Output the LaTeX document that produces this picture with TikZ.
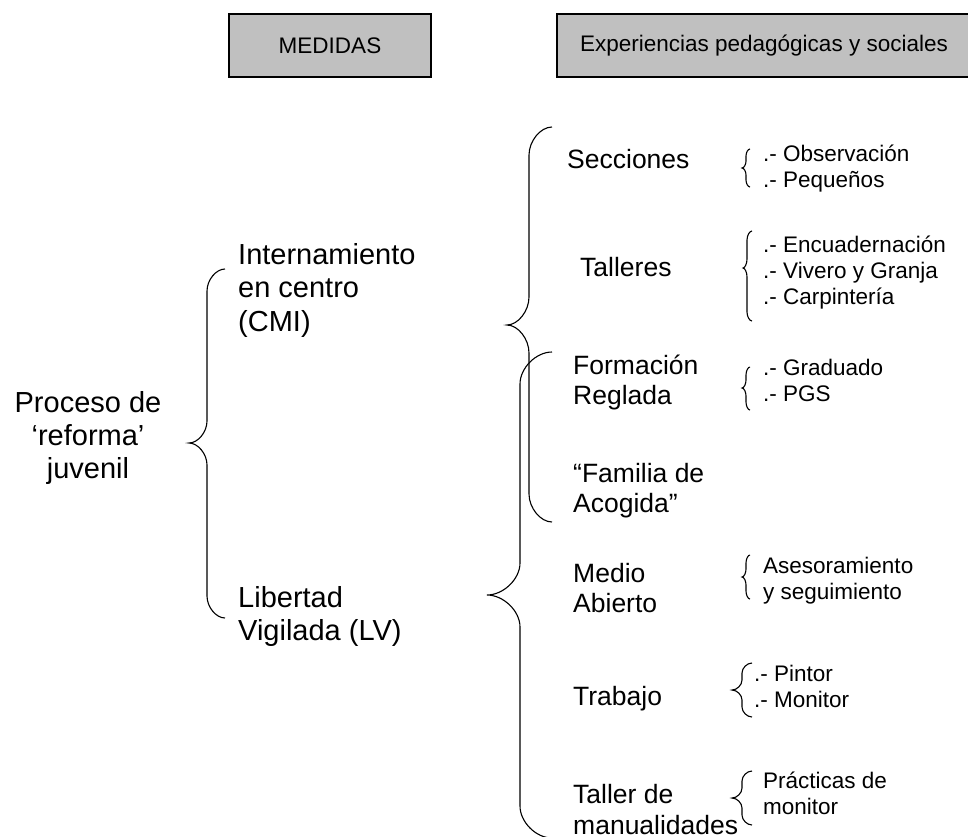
\documentclass[tikz,border=0pt]{standalone}
\usepackage{fontspec}
\setmainfont{Liberation Sans}
\definecolor{hdrgray}{HTML}{C0C0C0}
\tikzset{
  hdr/.style={draw=black, fill=hdrgray, line width=1.3pt, inner sep=0pt,
    minimum height=63pt, font=\fontsize{22.5}{26}\selectfont},
  lvlA/.style={inner sep=0pt, anchor=base west, align=left, font=\fontsize{29}{33.5}\selectfont},
  lvlB/.style={inner sep=0pt, anchor=base west, align=left, font=\fontsize{26.5}{30.5}\selectfont},
  lvlC/.style={inner sep=0pt, anchor=base west, align=left, font=\fontsize{22.5}{26}\selectfont},
  bracestyle/.style={draw=black, line width=1.1pt}
}
% xe, yt, xv, xt, ym, yb, r
\newcommand\wordbrace[7]{%
  \draw[bracestyle] (#1,#2) .. controls ({#3+0.5*(#1-#3)},#2) and (#3,{#2+0.5*#7}) .. (#3,{#2+#7})
    -- (#3,{#5-#7}) .. controls (#3,{#5-0.5*#7}) and ({#4+0.5*(#3-#4)},#5) .. (#4,#5)
    .. controls ({#4+0.5*(#3-#4)},#5) and (#3,{#5+0.5*#7}) .. (#3,{#5+#7})
    -- (#3,{#6-#7}) .. controls (#3,{#6-0.5*#7}) and ({#3+0.5*(#1-#3)},#6) .. (#1,#6);}
\begin{document}
\begin{tikzpicture}[x=1pt, y=-1pt]
\useasboundingbox (0,0) rectangle (968,836);
% header boxes
\node[hdr, minimum width=202pt] (medidas) at (330,45.5) {MEDIDAS};
\node[hdr, minimum width=414pt] (exper) at (764,45.5) {Experiencias pedagógicas y sociales};
% left (base anchor = baseline of the last line)
\node[inner sep=0pt, anchor=base, align=center, font=\fontsize{29}{33}\selectfont] (proc) at (88,478) {Proceso de\\‘reforma’\\juvenil};
\node[lvlA] (int) at (238,331) {Internamiento\\en centro\\(CMI)};
\node[lvlA] (lib) at (238,640.5) {Libertad\\Vigilada (LV)};
% middle
\node[lvlB] (sec) at (567,168) {Secciones};
\node[lvlB] (tal) at (580,276) {Talleres};
\node[lvlB] (form) at (573,404.5) {Formación\\Reglada};
\node[lvlB] (fam) at (573,512.5) {“Familia de\\Acogida”};
\node[lvlB] (medio) at (573,612.5) {Medio\\Abierto};
\node[lvlB] (trab) at (573,705) {Trabajo};
\node[lvlB] (taller) at (573,834) {Taller de\\manualidades};
% right
\node[lvlC] (obs) at (763,187) {.- Observación\\.- Pequeños};
\node[lvlC] (enc) at (763,304) {.- Encuadernación\\.- Vivero y Granja\\.- Carpintería};
\node[lvlC] (grad) at (763,401) {.- Graduado\\.- PGS};
\node[lvlC] (ases) at (763,599) {Asesoramiento\\y seguimiento};
\node[lvlC] (pint) at (754,707.5) {.- Pintor\\.- Monitor};
\node[lvlC] (prac) at (763,814.5) {Prácticas de\\monitor};
% braces
\wordbrace{225}{269}{207}{189}{443}{618}{22}
\wordbrace{552}{127}{529}{507}{325}{522}{28}
\wordbrace{552}{352}{520}{487}{595}{838}{32}
\wordbrace{750}{149}{746}{742}{168}{187}{7}
\wordbrace{752}{231}{747}{743}{268}{321}{9}
\wordbrace{750}{367}{746}{742}{388}{410}{8}
\wordbrace{750}{555}{746}{742}{577}{599}{8}
\wordbrace{752}{663}{742}{732}{690}{717}{10}
\wordbrace{752}{771}{742}{732}{798}{825}{10}
\end{tikzpicture}
\end{document}
